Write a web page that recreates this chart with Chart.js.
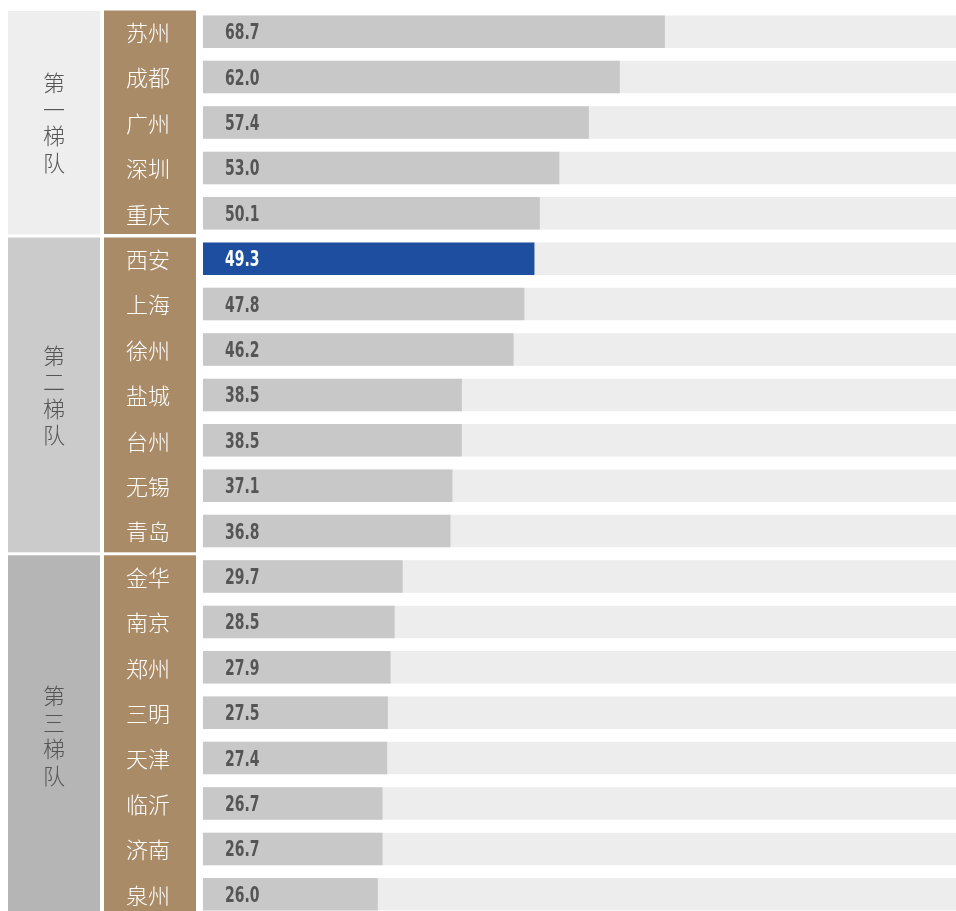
<!DOCTYPE html>
<html>
<head>
<meta charset="utf-8">
<script src="https://cdn.jsdelivr.net/npm/chart.js@4"></script>
<style>
  html, body { margin: 0; padding: 0; background: #fff; overflow: hidden; }
  #wrap { width: 956px; height: 920px; position: relative; }
</style>
</head>
<body>
<div id="wrap"><canvas id="rankChart"></canvas></div>
<script>
// cities, top to bottom
const cities = ['苏州', '成都', '广州', '深圳', '重庆', '西安', '上海', '徐州', '盐城', '台州', '无锡', '青岛', '金华', '南京', '郑州', '三明', '天津', '临沂', '济南', '泉州'];
const values = [68.7, 62.0, 57.4, 53.0, 50.1, 49.3, 47.8, 46.2, 38.5, 38.5, 37.1, 36.8, 29.7, 28.5, 27.9, 27.5, 27.4, 26.7, 26.7, 26.0];
// tiers: label + how many rows each covers
const tierNames = ['第一梯队', '第二梯队', '第三梯队'];
const tierSizes = [5, 7, 8];
const tierColors = ['#eeeeee', '#cbcbcb', '#b5b5b5'];
const highlightCity = '西安';
const trackMax = 112;

const barColors = cities.map(c => (c === highlightCity ? '#1d4e9f' : '#c8c8c8'));

// left columns (tiers + city names) and value labels
const sidePlugin = {
  id: 'sidePlugin',
  afterDatasetsDraw(chart) {
    const ctx = chart.ctx;
    const y = chart.scales.y;
    const area = chart.chartArea;
    const pitch = (area.bottom - area.top) / cities.length;
    ctx.save();

    let start = 0;
    tierSizes.forEach((n, t) => {
      const top = area.top + start * pitch + (t === 0 ? 2 : 1.5);
      const bottom = area.top + (start + n) * pitch - 1.5;
      ctx.fillStyle = tierColors[t];
      ctx.fillRect(8, top, 92, bottom - top);
      ctx.fillStyle = '#a98b67';
      ctx.fillRect(104, top - (t === 0 ? 0.5 : 0), 92, bottom - top);

      // vertical tier label
      ctx.fillStyle = '#555555';
      ctx.font = '300 22px "Noto Sans CJK SC"';
      ctx.textAlign = 'center';
      ctx.textBaseline = 'middle';
      const chars = tierNames[t].split('');
      const mid = (top + bottom) / 2;
      chars.forEach((ch, k) => {
        ctx.fillText(ch, 54, mid + (k - (chars.length - 1) / 2) * 26.5);
      });
      start += n;
    });

    // city names
    ctx.fillStyle = '#ffffff';
    ctx.font = '300 22px "Noto Sans CJK SC"';
    ctx.textAlign = 'center';
    ctx.textBaseline = 'middle';
    cities.forEach((c, i) => {
      ctx.fillText(c, 148, y.getPixelForValue(i) + 1);
    });

    // value labels
    ctx.textAlign = 'left';
    ctx.font = 'bold 21px "DejaVu Sans Condensed", sans-serif';
    values.forEach((v, i) => {
      const yy = y.getPixelForValue(i) + 2;
      ctx.fillStyle = cities[i] === highlightCity ? '#ffffff' : '#555555';
      ctx.save();
      ctx.translate(225, yy);
      ctx.scale(0.74, 1);
      ctx.fillText(v.toFixed(1), 0, 0);
      ctx.restore();
    });
    ctx.restore();
  }
};

new Chart(document.getElementById('rankChart'), {
  type: 'bar',
  data: {
    labels: cities,
    datasets: [
      {
        data: values,
        backgroundColor: barColors,
        borderWidth: 0,
        grouped: false,
        barPercentage: 0.716,
        categoryPercentage: 1,
      },
      {
        data: cities.map(() => trackMax),
        backgroundColor: '#ededed',
        borderWidth: 0,
        grouped: false,
        barPercentage: 0.716,
        categoryPercentage: 1,
      },
    ],
  },
  options: {
    indexAxis: 'y',
    responsive: true,
    maintainAspectRatio: false,
    animation: false,
    layout: { padding: { left: 203, right: 0, top: 9, bottom: 3 } },
    plugins: {
      legend: { display: false },
      tooltip: { enabled: false },
    },
    scales: {
      x: { display: false, min: 0, max: trackMax },
      y: { display: false },
    },
  },
  plugins: [sidePlugin],
});
</script>
</body>
</html>
